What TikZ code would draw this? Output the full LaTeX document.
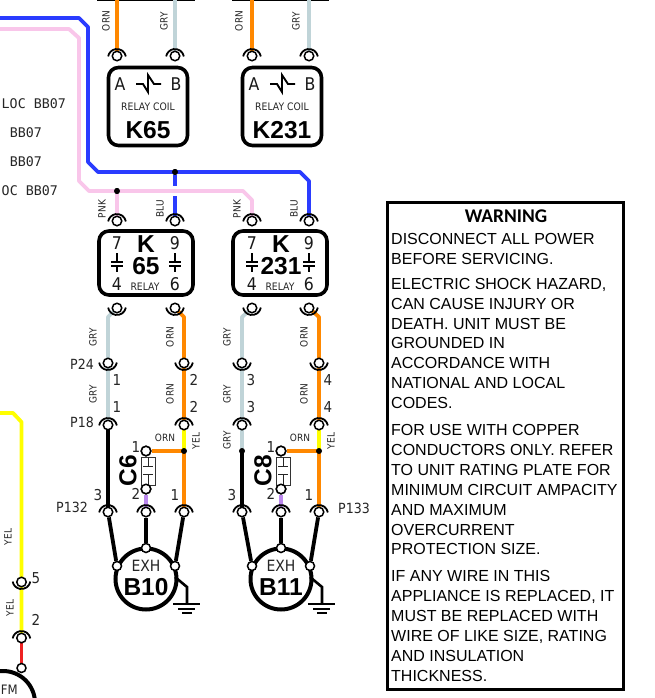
\documentclass[tikz,border=0pt]{standalone}
\usepackage{fontspec}
\setmainfont{DejaVu Sans}
\newfontfamily\arialf{Liberation Sans}
\newfontfamily\monof{DejaVu Sans Mono}
\newfontfamily\calibf{Carlito}
\newfontfamily\narf[FakeStretch=0.9]{DejaVu Sans}
\definecolor{wblu}{HTML}{2A3CFF}
\definecolor{wpnk}{HTML}{F9C6EA}
\definecolor{worn}{HTML}{FF8800}
\definecolor{wgry}{HTML}{C0D4D8}
\definecolor{wyel}{HTML}{FFFF00}
\definecolor{wred}{HTML}{EE2222}
\definecolor{wpur}{HTML}{BB88EE}
\tikzset{
  wire/.style={line width=3.8pt,line join=round},
  blk/.style={wire,draw=black},
  termn/.style={circle,draw=black,fill=white,line width=1.5pt,minimum size=9.5pt,inner sep=0pt},
  endn/.style={circle,draw=black,fill=white,line width=1.5pt,minimum size=9pt,inner sep=0pt},
  dotn/.style={circle,fill=black,minimum size=6pt,inner sep=0pt},
  arcl/.style={line width=1.8pt,draw=black},
  coil/.style={draw=black,line width=3.6pt,rounded corners=10pt,minimum width=79pt,minimum height=78pt,inner sep=0pt},
  relayb/.style={draw=black,line width=3.6pt,rounded corners=10pt,minimum width=94pt,minimum height=64pt,inner sep=0pt},
  wl/.style={rotate=90,font=\narf\fontsize{10}{10}\selectfont,inner sep=0pt,text=black!85},
  hl/.style={font=\narf\fontsize{10}{10}\selectfont,inner sep=0pt,text=black!85},
  num/.style={font=\narf\fontsize{15}{15}\selectfont,inner sep=0pt,text=black!85},
  conn/.style={font=\narf\fontsize{14}{14}\selectfont,inner sep=0pt,text=black!85},
  pin/.style={font=\narf\fontsize{17.5}{17}\selectfont,inner sep=0pt,text=black!90},
  big/.style={font=\arialf\bfseries\fontsize{24.5}{22}\selectfont,inner sep=0pt},
  small/.style={font=\narf\fontsize{10.3}{10}\selectfont,inner sep=0pt,text=black!85},
  locl/.style={font=\monof\fontsize{13.3}{14}\selectfont,inner sep=0pt,anchor=east,text=black!85},
  warn/.style={font=\arialf\fontsize{16}{19.85}\selectfont,inner sep=0pt,anchor=north west,align=left},
  ctc/.style={draw=black,line width=2.2pt},
  motor/.style={circle,draw=black,line width=4pt,fill=white,minimum size=61pt,inner sep=0pt},
}
\newcommand{\termA}[3]{\node[termn] (#1) at (#2,#3) {};\draw[arcl] ($(#1.center)+(0,2)$) ++(10:9pt) arc[start angle=10,end angle=170,radius=9pt];}
\newcommand{\termB}[3]{\node[termn] (#1) at (#2,#3) {};\draw[arcl] ($(#1.center)+(0,-2)$) ++(-10:9pt) arc[start angle=-10,end angle=-170,radius=9pt];}
\newcommand{\contact}[3]{%
  \coordinate (#1t) at (#2,#3-11);\coordinate (#1u) at (#2,#3-2);\coordinate (#1v) at (#2,#3+2);\coordinate (#1w) at (#2,#3+8);
  \coordinate (#1a) at (#2-6,#3-2);\coordinate (#1b) at (#2+6,#3-2);\coordinate (#1c) at (#2-6,#3+2);\coordinate (#1d) at (#2+6,#3+2);
  \draw[ctc] (#1t)--(#1u) (#1v)--(#1w) (#1a)--(#1b) (#1c)--(#1d);}
\usetikzlibrary{calc}
\begin{document}
\begin{tikzpicture}[x=1pt,y=-1pt]
\useasboundingbox (0,0) rectangle (654,698);
\fill[white] (0,0) rectangle (654,698);
\clip (0,0) rectangle (654,698);

\coordinate (t1) at (117,0);\coordinate (t2) at (175,0);\coordinate (t3) at (252,0);\coordinate (t4) at (309,0);
\draw[black,line width=2pt] (97,0)--(195,0) (232,0)--(329,0);

\node[dotn] (jp) at (117,191) {};
\node[dotn] (jb) at (175,172) {};
\node[termn] (c1) at (146,451) {};
\node[termn] (c2) at (146,489) {};
\node[termn] (d1) at (281,451) {};
\node[termn] (d2) at (281,489) {};

% buses
\coordinate (b0) at (0,18);\coordinate (b1) at (79,18);\coordinate (b2) at (88,27);\coordinate (b3) at (88,162);\coordinate (b4) at (98,172);\coordinate (b5) at (300,172);\coordinate (b6) at (309,181);\coordinate (b7) at (309,221);\coordinate (b8) at (175,221);
\draw[wire,wblu] (b0)--(b1)--(b2)--(b3)--(b4)--(b5)--(b6)--(b7);
\draw[wire,wblu] (jb)--(b8);
\coordinate (p0) at (0,29);\coordinate (p1) at (69,29);\coordinate (p2) at (79,38);\coordinate (p3) at (79,181);\coordinate (p4) at (89,191);\coordinate (p5) at (243,191);\coordinate (p6) at (252,200);\coordinate (p7) at (252,221);\coordinate (p8) at (117,221);
\draw[white,line width=10pt] (170,191)--(180,191);
\draw[wire,wpnk] (p0)--(p1)--(p2)--(p3)--(p4)--(p5)--(p6)--(p7);
\draw[wire,wpnk] (jp)--(p8);

% top wires
\draw[wire,worn] (t1)--(117,56);
\draw[wire,wgry] (t2)--(175,56);
\draw[wire,worn] (t3)--(252,56);
\draw[wire,wgry] (t4)--(309,56);

% relay outlets
\draw[wire,wgry] (117,308)--(108,317)--(108,425);
\draw[wire,worn] (175,308)--(184,317)--(184,425);
\draw[wire,wgry] (252,308)--(242,317)--(242,451);
\draw[wire,worn] (309,308)--(319,317)--(319,425);

% lower wires
\draw[wire,wyel] (184,425)--(184,451);
\draw[wire,wyel] (319,425)--(319,451);
\draw[wire,worn] (184,451)--(184,512);
\draw[wire,worn] (319,451)--(319,512);
\draw[wire,worn] (c1)--(184,451);
\draw[wire,worn] (d1)--(319,451);
\draw[wire,wpur] (c2)--(146,512);
\draw[wire,wpur] (d2)--(281,512);
\draw[blk] (108,425)--(108,512);
\draw[blk] (242,451)--(242,512);

% left wire
\draw[wire,wyel] (0,413)--(13,413)--(21.5,422)--(21.5,638);
\draw[wire,wred] (21.5,638)--(21.5,668);

% motors
\node[motor] (B10) at (146,579) {};
\node[motor] (B11) at (281,579) {};
\draw[black,line width=4pt] (3,703) circle (32pt);
\node[endn] (fmt) at (21.5,668) {};
\node[font=\narf\fontsize{13}{14}\selectfont,inner sep=0pt,text=black!85,anchor=west] (fmt2) at (0.7,690) {FM};

\node[font=\narf\fontsize{15.5}{15}\selectfont,inner sep=0pt,text=black!85] (x10) at (146,566) {EXH};
\node[big] (l10) at (146,587) {B10};
\node[font=\narf\fontsize{15.5}{15}\selectfont,inner sep=0pt,text=black!85] (x11) at (281,566) {EXH};
\node[big] (l11) at (281,587) {B11};

\node[endn] (m1a) at (117,566) {};\node[endn] (m1b) at (146,548) {};\node[endn] (m1c) at (175,566) {};
\node[endn] (m2a) at (252,566) {};\node[endn] (m2b) at (281,548) {};\node[endn] (m2c) at (310,566) {};

\termA{q1}{108}{512}\termA{q2}{146}{512}\termA{q3}{184}{512}
\termA{r1}{242}{512}\termA{r2}{281}{512}\termA{r3}{319}{512}
\draw[blk] (q1)--(m1a);\draw[blk] (q2)--(m1b);\draw[blk] (q3)--(m1c);
\draw[blk] (r1)--(m2a);\draw[blk] (r2)--(m2b);\draw[blk] (r3)--(m2c);

% grounds
\coordinate (g1) at (175,577);\coordinate (g2) at (187,587);\coordinate (g3) at (187,604);
\draw[black,line width=2.6pt] (g1)--(g2)--(g3);
\draw[black,line width=2pt] (173,604)--(200,604) (178,608.5)--(195,608.5);
\draw[black,line width=2pt] (182,613)--(192,613);
\coordinate (g4) at (310,577);\coordinate (g5) at (322,587);\coordinate (g6) at (322,604);
\draw[black,line width=2.6pt] (g4)--(g5)--(g6);
\draw[black,line width=2pt] (308,604)--(335,604) (313,608.5)--(330,608.5);
\draw[black,line width=2pt] (317,613)--(327,613);

% capacitors
\node[draw=black!80,line width=1pt,fill=white,minimum width=14pt,minimum height=28pt,inner sep=0pt] (cap6) at (148,471) {};
\draw[black!85,line width=1pt] (148,457)--(148,466) (148,474)--(148,485) (143,466)--(153,466) (143,474)--(153,474);
\node[draw=black!80,line width=1pt,fill=white,minimum width=14pt,minimum height=28pt,inner sep=0pt] (cap8) at (283,471) {};
\draw[black!85,line width=1pt] (283,457)--(283,466) (283,474)--(283,485) (278,466)--(288,466) (278,474)--(288,474);
\node[big,rotate=90] (c6l) at (128,471) {C6};
\node[big,rotate=90] (c8l) at (263,471) {C8};
\node[termn] at (c1) {};\node[termn] at (c2) {};\node[termn] at (d1) {};\node[termn] at (d2) {};

% connector terminals
\termB{u1}{108}{363}\termB{u2}{184}{363}\termB{u3}{242}{363}\termB{u4}{319}{363}
\termA{v1}{108}{425}\termA{v2}{184}{425}\termA{v3}{242}{425}\termA{v4}{319}{425}
\termA{w1}{117}{56}\termA{w2}{175}{56}\termA{w3}{252}{56}\termA{w4}{309}{56}
\termA{x1}{117}{221}\termA{x2}{175}{221}\termA{x3}{252}{221}\termA{x4}{309}{221}
\termB{y1}{117}{308}\termB{y2}{175}{308}\termB{y3}{252}{308}\termB{y4}{309}{308}
\termB{z1}{21.5}{582}\termA{z2}{21.5}{638}

% junctions
\node[dotn] at (jp) {};\node[dotn] at (jb) {};
\node[dotn] (j1) at (184,451) {};\node[dotn] (j2) at (319,451) {};\node[dotn] (j3) at (242,451) {};

% coil boxes
\node[coil] (K65) at (148,106.5) {};
\node[coil] (K231) at (282,106.5) {};
\node[pin] (ka1) at (120,84) {A};\node[pin] (kb1) at (176,84) {B};
\node[pin] (ka2) at (254,84) {A};\node[pin] (kb2) at (310,84) {B};
\draw[black,line width=1.9pt] (136,84)--(143,84)--(148,92)--(148,75)--(154,84)--(161,84);
\draw[black,line width=1.9pt] (270,84)--(277,84)--(282,92)--(282,75)--(288,84)--(295,84);
\node[small] (rc1) at (148,107) {RELAY COIL};
\node[small] (rc2) at (282,107) {RELAY COIL};
\node[big] (n65) at (148,130) {K65};
\node[big] (n231) at (282,130) {K231};

% relay boxes
\node[relayb] (R65) at (146,263) {};
\node[relayb] (R231) at (280,263) {};
\node[big,align=center] (r65) at (146,255) {K\\65};
\node[big,align=center] (r231) at (281,255) {K\\231};
\node[pin] (p71) at (117,243) {7};\node[pin] (p91) at (175,243) {9};\node[pin] (p41) at (117,284) {4};\node[pin] (p61) at (175,284) {6};
\node[pin] (p72) at (252,243) {7};\node[pin] (p92) at (309,243) {9};\node[pin] (p42) at (252,284) {4};\node[pin] (p62) at (309,284) {6};
\node[small] (re1) at (145,287) {RELAY};
\node[small] (re2) at (280,287) {RELAY};
\contact{ca}{117}{264}\contact{cb}{175}{264}\contact{cc}{252}{264}\contact{cd}{309}{264}

% wire labels
\node[wl] (a1) at (106,21) {ORN};\node[wl] (a2) at (164,21) {GRY};\node[wl] (a3) at (239,21) {ORN};\node[wl] (a4) at (296,21) {GRY};
\node[wl] (a5) at (102,209) {PNK};\node[wl] (a6) at (160,209) {BLU};\node[wl] (a7) at (237,209) {PNK};\node[wl] (a8) at (294,209) {BLU};
\node[wl] (a9) at (93,337) {GRY};\node[wl] (a10) at (170,337) {ORN};\node[wl] (a11) at (227,337) {GRY};\node[wl] (a12) at (304,337) {ORN};
\node[wl] (a13) at (93,394) {GRY};\node[wl] (a14) at (170,394) {ORN};\node[wl] (a15) at (227,394) {GRY};\node[wl] (a16) at (304,394) {ORN};
\node[wl] (a17) at (227,440) {GRY};\node[wl] (a18) at (196,441) {YEL};\node[wl] (a19) at (331,441) {YEL};
\node[hl] (a20) at (165,438) {ORN};\node[hl] (a21) at (300,438) {ORN};
\node[wl] (a22) at (8,537) {YEL};\node[wl] (a23) at (10,608) {YEL};

% numbers
\node[num] (n1) at (117,380) {1};\node[num] (n2) at (194,380) {2};\node[num] (n3) at (251,380) {3};\node[num] (n4) at (328,380) {4};
\node[num] (n5) at (117,407) {1};\node[num] (n6) at (194,407) {2};\node[num] (n7) at (251,407) {3};\node[num] (n8) at (328,407) {4};
\node[num] (n9) at (98,495) {3};\node[num] (n10) at (136,494) {2};\node[num] (n11) at (175,495) {1};
\node[num] (n12) at (232,495) {3};\node[num] (n13) at (271,494) {2};\node[num] (n14) at (309,495) {1};
\node[num] (n15) at (136,447) {1};\node[num] (n16) at (271,447) {1};
\node[num] (n17) at (36,578) {5};\node[num] (n18) at (36,620) {2};
\node[conn,anchor=east] (l1) at (94,364) {P24};
\node[conn,anchor=east] (l2) at (94,422) {P18};
\node[conn,anchor=east] (l3) at (88,507) {P132};
\node[conn,anchor=west] (l4) at (338,508) {P133};

% location labels
\node[locl] (o1) at (66,104) {LOC BB07};
\node[locl] (o2) at (42,133) {BB07};
\node[locl] (o3) at (42,162) {BB07};
\node[locl] (o4) at (58,191) {OC BB07};

% warning
\node[draw=black,line width=3pt,minimum width=236pt,minimum height=487pt,inner sep=0pt] (wbox) at (505,445.5) {};
\node[font=\calibf\bfseries\fontsize{19.4}{20}\selectfont,inner sep=0pt] (wt) at (506,216) {WARNING};
\node[warn] (w1) at (391,233) {DISCONNECT ALL POWER\\BEFORE SERVICING.};
\node[warn] (w2) at (391,278) {ELECTRIC SHOCK HAZARD,\\CAN CAUSE INJURY OR\\DEATH. UNIT MUST BE\\GROUNDED IN\\ACCORDANCE WITH\\NATIONAL AND LOCAL\\CODES.};
\node[warn] (w3) at (391,424.5) {FOR USE WITH COPPER\\CONDUCTORS ONLY. REFER\\TO UNIT RATING PLATE FOR\\MINIMUM CIRCUIT AMPACITY\\AND MAXIMUM\\OVERCURRENT\\PROTECTION SIZE.};
\node[warn,font=\arialf\fontsize{16}{20}\selectfont] (w4) at (391,570) {IF ANY WIRE IN THIS\\APPLIANCE IS REPLACED, IT\\MUST BE REPLACED WITH\\WIRE OF LIKE SIZE, RATING\\AND INSULATION\\THICKNESS.};
\end{tikzpicture}
\end{document}
